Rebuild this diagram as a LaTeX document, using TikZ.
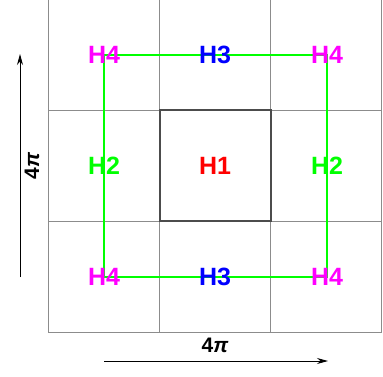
\documentclass[tikz,border=0pt]{standalone}
\usepackage{fontspec}
\setmainfont{Liberation Sans}
\usetikzlibrary{arrows.meta, positioning}
\definecolor{hred}{RGB}{255,0,0}
\definecolor{hgreen}{RGB}{0,255,0}
\definecolor{hblue}{RGB}{0,0,255}
\definecolor{hpink}{RGB}{255,0,255}

\begin{document}
\begin{tikzpicture}[x=1pt, y=-1pt,
  cell/.style={draw=gray!90, line width=1pt},
  core/.style={draw=black!70, line width=1.8pt},
  path/.style={draw=hgreen, line width=1.8pt},
  lab/.style={font=\fontsize{25}{28}\selectfont\bfseries, inner sep=0pt},
  dim/.style={draw=black, line width=0.9pt, -{Stealth[length=11pt, width=6pt]}},
  dimlab/.style={font=\fontsize{21}{24}\selectfont\bfseries, inner sep=0pt}]
\useasboundingbox (0,0) rectangle (383,376);
% cells
\foreach \i in {0,1,2} {
  \foreach \j in {0,1,2} {
    \draw[cell] (48+111*\i,-1+111*\j) rectangle ++(111,111);
  }
}
\draw[core] (160,110) rectangle (271,221);
% corners of the loop
\coordinate (tl) at (104,55);
\coordinate (br) at (327,277);
\draw[path] (tl) rectangle (br);
% labels
\node[lab, text=hred] (h1) at (215,166) {H1};
\node[lab, text=hgreen] (h2l) at (104,166) {H2};
\node[lab, text=hgreen] (h2r) at (327,166) {H2};
\node[lab, text=hblue] (h3t) at (215,55) {H3};
\node[lab, text=hblue] (h3b) at (215,277) {H3};
\node[lab, text=hpink] (h4a) at (104,55) {H4};
\node[lab, text=hpink] (h4b) at (327,55) {H4};
\node[lab, text=hpink] (h4c) at (104,277) {H4};
\node[lab, text=hpink] (h4d) at (327,277) {H4};
% dimensions
\coordinate (v0) at (20,277);
\coordinate (v1) at (20,54);
\draw[dim] (v0) -- (v1);
\node[dimlab, rotate=90] (vlab) at (32,166) {4\textit{π}};
\coordinate (u0) at (104,361);
\coordinate (u1) at (328,361);
\draw[dim] (u0) -- (u1);
\node[dimlab] (ulab) at (215,345) {4\textit{π}};
\end{tikzpicture}
\end{document}
